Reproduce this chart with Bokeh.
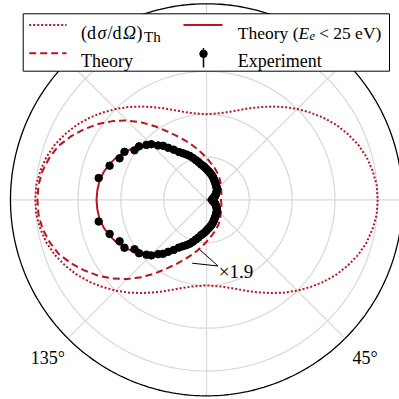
import numpy as np
from bokeh.plotting import figure
from bokeh.models import Range1d
from bokeh.core.properties import value
from bokeh.embed import file_html
from bokeh.resources import INLINE

# ---------------------------------------------------------------------------
# Angular distributions (angle in degrees, radius in plot units).
# Each curve is given on 0..180 deg and mirrored onto 180..360 deg.
# ---------------------------------------------------------------------------
curve_angle = [0, 5, 10, 15, 20, 25, 30, 35, 40, 45, 50, 55, 60, 65, 70, 75,
               80, 85, 90, 95, 100, 105, 110, 115, 120, 125, 130, 135, 140,
               145, 150, 155, 160, 165, 170, 175, 180]

thomson_r = [4.00, 3.99, 3.94, 3.87, 3.77, 3.64, 3.50, 3.34, 3.17, 3.00,
             2.83, 2.66, 2.50, 2.36, 2.23, 2.13, 2.06, 2.02, 2.00, 2.02,
             2.06, 2.13, 2.23, 2.36, 2.50, 2.66, 2.83, 3.00, 3.17, 3.34,
             3.50, 3.64, 3.77, 3.87, 3.94, 3.99, 4.00]

theory_r = [0.34, 0.34, 0.35, 0.36, 0.37, 0.385, 0.40, 0.42, 0.44, 0.47,
            0.51, 0.55, 0.60, 0.65, 0.70, 0.76, 0.82, 0.89, 0.98, 1.08,
            1.20, 1.33, 1.48, 1.65, 1.85, 2.10, 2.36, 2.62, 2.86, 3.09,
            3.30, 3.50, 3.68, 3.80, 3.89, 3.94, 3.95]

theory_low_r = [0.00, 0.03, 0.07, 0.10, 0.14, 0.17, 0.20, 0.24, 0.27, 0.30,
                0.34, 0.38, 0.42, 0.46, 0.50, 0.55, 0.60, 0.65, 0.71, 0.78,
                0.86, 0.96, 1.07, 1.18, 1.30, 1.45, 1.62, 1.79, 1.95, 2.10,
                2.22, 2.33, 2.42, 2.49, 2.54, 2.56, 2.57]

exp_angle = [0, 5, 10, 15, 20, 24, 28, 32, 36, 40, 44, 48, 52, 56, 60, 63, 66,
             69, 72, 75, 78, 81, 84, 87, 90, 93, 96, 99, 102, 105, 108, 111,
             114, 117, 120, 123.2, 126.4, 128.8, 131.7, 134.8, 137.6, 141.6,
             145.5, 149.7, 154.5, 160.6, 168.6]
exp_r = [0.13, 0.14, 0.15, 0.17, 0.20, 0.22, 0.24, 0.26, 0.29, 0.31, 0.34,
         0.36, 0.38, 0.40, 0.43, 0.45, 0.47, 0.50, 0.53, 0.56, 0.59, 0.62,
         0.65, 0.68, 0.72, 0.76, 0.80, 0.84, 0.90, 0.96, 1.03, 1.10, 1.16,
         1.22, 1.29, 1.40, 1.51, 1.62, 1.70, 1.83, 1.90, 2.01, 2.04, 2.22,
         2.25, 2.40, 2.57]

grid_r = [1, 2, 3, 4]
r_max = 4.58
tick_angles = [0, 45, 90, 135, 180, 225, 270, 315]
tick_labels = ["0°", "45°", "90°", "135°", "180°", "225°", "270°", "315°"]
scale_label = "×1.9"

RED = "#b9151f"
GRID = "#dadada"
SERIF = "Liberation Serif"

# ---------------------------------------------------------------------------
# Canvas geometry: pixels per plot unit and pole position inside the canvas
# ---------------------------------------------------------------------------
W = H = 399
U = 42.8
CX, CY = 206.0, 199.3


def sx(px):
    return (px - CX) / U


def sy(py):
    return (CY - py) / U


def mirror(angles, radii, closed=True):
    a = list(angles)
    r = list(radii)
    back_a = [360 - v for v in a[::-1] if 0 < v < 180]
    back_r = [rv for v, rv in zip(a[::-1], r[::-1]) if 0 < v < 180]
    a_full = a + back_a
    r_full = r + back_r
    if closed:
        a_full.append(a_full[0] + 360)
        r_full.append(r_full[0])
    return np.array(a_full, float), np.array(r_full, float)


def polar_xy(angle_deg, r):
    t = np.radians(np.asarray(angle_deg, float))
    r = np.asarray(r, float)
    # angles run clockwise from the +x direction
    return r * np.cos(t), -r * np.sin(t)


p = figure(width=W, height=H,
           x_range=Range1d(sx(0), sx(W)), y_range=Range1d(sy(H), sy(0)),
           output_backend="svg", toolbar_location=None,
           x_axis_location=None, y_axis_location=None,
           min_border=0, outline_line_color=None)
p.grid.visible = False
p.background_fill_color = "white"
p.border_fill_color = "white"

# polar grid
t_full = np.linspace(0, 360, 361)
for rg in grid_r:
    gx, gy = polar_xy(t_full, np.full_like(t_full, rg))
    p.line(gx, gy, line_color=GRID, line_width=1.3)
sx0, sy0 = polar_xy(tick_angles, [0] * len(tick_angles))
sx1, sy1 = polar_xy(tick_angles, [r_max] * len(tick_angles))
p.segment(x0=sx0, y0=sy0, x1=sx1, y1=sy1, line_color=GRID, line_width=1.3)

# curves
a, r = mirror(curve_angle, thomson_r)
x, y = polar_xy(a, r)
p.line(x, y, line_color=RED, line_width=2, line_dash="2 2", line_join="round")

a, r = mirror(curve_angle, theory_r)
x, y = polar_xy(a, r)
p.line(x, y, line_color=RED, line_width=2, line_dash="7 4", line_join="round")

a, r = mirror(curve_angle, theory_low_r)
x, y = polar_xy(a, r)
p.line(x, y, line_color=RED, line_width=2, line_join="round")

a, r = mirror(exp_angle, exp_r, closed=False)
x, y = polar_xy(a, r)
p.scatter(x, y, size=7.5, fill_color="black", line_color="black")

# scale-factor annotation
tip = (sx(217.5), sy(265.5))
p.segment(x0=[sx(198.3), sx(191.7)], y0=[sy(248.3), sy(262.7)],
          x1=[tip[0]] * 2, y1=[tip[1]] * 2, line_color="black", line_width=1)
p.text(x=[sx(218.3)], y=[sy(271)], text=[scale_label],
       text_font=value(SERIF), text_font_size="19px",
       text_baseline="alphabetic", text_align="left", text_color="black")

# outer frame circle
ox, oy = polar_xy(t_full, np.full_like(t_full, r_max))
p.line(ox, oy, line_color="black", line_width=1.3)

# angular tick labels (only those that fall inside the canvas)
lx, ly = polar_xy(tick_angles, [5.24] * len(tick_angles))
keep = [(xx, yy, tl) for xx, yy, tl in zip(lx, ly, tick_labels)
        if sx(15) < xx < sx(W - 15) and sy(H - 8) < yy < sy(8)]
p.text(x=[k[0] for k in keep], y=[k[1] for k in keep], text=[k[2] for k in keep],
       text_font=value(SERIF), text_font_size="18px",
       text_baseline="middle", text_align="center", text_color="black")

# ---------------------------------------------------------------------------
# legend
# ---------------------------------------------------------------------------
p.quad(left=[sx(22.7)], right=[sx(389)], top=[sy(13.3)], bottom=[sy(70.7)],
       fill_color="white", line_color="black", line_width=1)

row1, row2 = 24.5, 52.7
base1, base2 = 32.3, 60.0
p.line([sx(28.7), sx(66)], [sy(row1)] * 2, line_color=RED, line_width=2, line_dash="2 2")
p.line([sx(183), sx(222)], [sy(row1)] * 2, line_color=RED, line_width=2)
p.line([sx(28.7), sx(66)], [sy(row2)] * 2, line_color=RED, line_width=2, line_dash="7 4")
p.line([sx(203), sx(203)], [sy(47.5), sy(67)], line_color="black", line_width=1.5)
p.scatter([sx(203)], [sy(53.3)], size=7.5, fill_color="black", line_color="black")


def txt(px, py, s, size="18px", style="normal"):
    p.text(x=[sx(px)], y=[sy(py)], text=[s], text_font=value(SERIF),
           text_font_size=size, text_font_style=style,
           text_baseline="alphabetic", text_align="left", text_color="black")


txt(80.5, base1, "(d")
txt(97.0, base1, "σ", style="italic")
txt(107.0, base1, "/d")
txt(122.5, base1, "Ω", style="italic")
txt(136.0, base1, ")")
txt(143.5, base1 + 4.5, "Th", size="15px")

txt(237.3, base1, "Theory (", size="17.5px")
txt(298.0, base1, "E", size="17.5px", style="italic")
txt(309.0, base1 + 3.5, "e", size="12.5px", style="italic")
txt(318.5, base1, "< 25 eV)", size="17.5px")

txt(80.5, base2, "Theory")
txt(237.3, base2, "Experiment")

open("out.html", "w").write(file_html(p, INLINE))
